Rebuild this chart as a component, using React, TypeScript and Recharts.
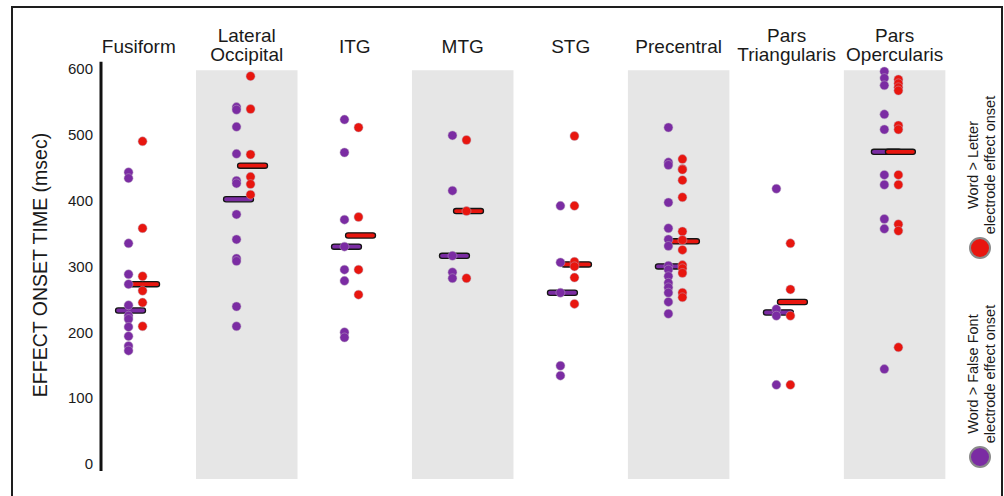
import React from 'react';
import {
  ScatterChart,
  Scatter,
  XAxis,
  YAxis,
  ReferenceArea,
  ReferenceLine,
} from 'recharts';

const FONT = '"Liberation Sans", Arial, sans-serif';

const regions = [
  'Fusiform',
  'Lateral Occipital',
  'ITG',
  'MTG',
  'STG',
  'Precentral',
  'Pars Triangularis',
  'Pars Opercularis',
];

// Word > False Font electrode effect onsets (msec), one list per region
const falseFontOnsets = [
  [443, 434, 335, 288, 273, 241, 225, 220, 208, 194, 179, 172],
  [542, 538, 512, 471, 430, 426, 379, 341, 312, 308, 239, 209],
  [523, 473, 371, 330, 295, 278, 200, 192],
  [499, 415, 316, 291, 282],
  [392, 306, 260, 149, 134],
  [511, 458, 454, 397, 358, 341, 331, 301, 295, 285, 275, 268, 260, 246, 228],
  [418, 235, 225, 120],
  [596, 586, 575, 531, 508, 439, 424, 372, 357, 144],
];

// Word > Letter electrode effect onsets (msec)
const letterOnsets = [
  [490, 358, 285, 263, 245, 209],
  [589, 539, 470, 436, 425, 409],
  [511, 375, 295, 257],
  [492, 384, 282],
  [498, 392, 307, 300, 283, 243],
  [463, 448, 447, 431, 405, 353, 340, 325, 302, 297, 290, 260, 253],
  [335, 265, 225, 120],
  [584, 578, 572, 567, 514, 508, 439, 424, 364, 354, 177],
];

const falseFontMedians = [233, 402, 330, 316, 260, 300, 230, 474];
const letterMedians = [273, 453, 347, 384, 303, 338, 246, 474];

const yTicks = [0, 100, 200, 300, 400, 500, 600];
const shadedRegions = [1, 3, 5, 7];

const PURPLE = '#7B2CA3';
const RED = '#E8160F';

const series = [
  { name: 'Word > False Font', sub: 'electrode effect onset', color: PURPLE, onsets: falseFontOnsets, medians: falseFontMedians, shift: -0.095 },
  { name: 'Word > Letter', sub: 'electrode effect onset', color: RED, onsets: letterOnsets, medians: letterMedians, shift: 0.035 },
];

const X_MIN = -0.35;
const X_MAX = 7.55;

function RegionTick(props: any) {
  const { x, y, payload } = props;
  const words = regions[payload.value].split(' ');
  const common = { x, textAnchor: 'middle' as const, fontSize: 19, fontFamily: FONT, fill: '#1a1a1a' };
  if (words.length === 1) {
    return <text {...common} y={y}>{words[0]}</text>;
  }
  return (
    <g>
      <text {...common} y={y - 11.5}>{words[0]}</text>
      <text {...common} y={y + 8}>{words[1]}</text>
    </g>
  );
}

function Dot(color: string) {
  return (p: any) => (
    <circle cx={p.cx} cy={p.cy} r={4.5} fill={color} stroke="#b9a9c0" strokeOpacity={0.6} strokeWidth={0.8} />
  );
}

function MedianBar(color: string) {
  return (p: any) => (
    <rect x={p.cx - 13} y={p.cy - 2.6} width={30} height={5.2} rx={2.6} fill={color} stroke="#151515" strokeWidth={1.3} />
  );
}

function YTitle(props: any) {
  const { viewBox } = props;
  const cx = viewBox.x - 1;
  const cy = viewBox.y + viewBox.height / 2 - 5;
  return (
    <text
      x={cx}
      y={cy}
      transform={`rotate(-90 ${cx} ${cy})`}
      textAnchor="middle"
      dominantBaseline="central"
      fontSize={19.5}
      fontFamily={FONT}
      fill="#1a1a1a"
    >
      EFFECT ONSET TIME (msec)
    </text>
  );
}

export default function App() {
  const pointData = series.map((s) =>
    s.onsets.flatMap((vals, i) => vals.map((v) => ({ x: i + s.shift, y: v })))
  );
  const medianData = series.map((s) => s.medians.map((v, i) => ({ x: i + s.shift, y: v })));

  return (
    <div style={{ position: 'absolute', left: 0, top: 0, width: 1004, height: 496, background: '#fff', overflow: 'hidden' }}>
      <div
        style={{
          position: 'absolute',
          left: 11,
          top: 6,
          width: 992,
          height: 520,
          border: '2px solid #1e1e1e',
          boxSizing: 'border-box',
        }}
      />
      <ScatterChart width={1004} height={496} margin={{ top: 0, right: 50, bottom: 17, left: 41 }}>
        <XAxis
          type="number"
          dataKey="x"
          orientation="top"
          domain={[X_MIN, X_MAX]}
          ticks={[0, 1, 2, 3, 4, 5, 6, 7]}
          interval={0}
          height={61}
          axisLine={false}
          tickLine={false}
          allowDataOverflow
          tick={<RegionTick />}
        />
        <YAxis
          type="number"
          dataKey="y"
          domain={[-23, 612]}
          ticks={yTicks}
          width={60}
          axisLine={false}
          tickLine={false}
          allowDataOverflow
          tick={{ fontSize: 15, fontFamily: FONT, fill: '#1a1a1a' }}
          label={<YTitle />}
        />
        {shadedRegions.map((i) => (
          <ReferenceArea key={i} x1={i - 0.47} x2={i + 0.47} y1={-23} y2={598} fill="#e6e6e6" fillOpacity={1} stroke="none" />
        ))}
        <ReferenceLine
          segment={[{ x: X_MIN, y: -11 }, { x: X_MIN, y: 611 }]}
          stroke="#111"
          strokeWidth={3}
          ifOverflow="visible"
        />
        {series.map((s, k) => (
          <Scatter key={'m' + k} name={s.name + ' median'} data={medianData[k]} shape={MedianBar(s.color)} isAnimationActive={false} />
        ))}
        {series.map((s, k) => (
          <Scatter key={'p' + k} name={s.name} data={pointData[k]} shape={Dot(s.color)} isAnimationActive={false} />
        ))}
      </ScatterChart>
      <svg width={1004} height={496} style={{ position: 'absolute', left: 0, top: 0, pointerEvents: 'none' }}>
        {[...series].reverse().map((s, k) => {
          const cy = k === 0 ? 165 : 374;
          const circleY = k === 0 ? 248 : 457;
          return (
            <g key={s.name} fontFamily={FONT} fontSize={14.5} fill="#1a1a1a">
              <text x={973} y={cy} transform={`rotate(-90 973 ${cy})`} textAnchor="middle" dominantBaseline="central">
                {s.name}
              </text>
              <text x={990} y={cy} transform={`rotate(-90 990 ${cy})`} textAnchor="middle" dominantBaseline="central">
                {s.sub}
              </text>
              <circle cx={980} cy={circleY} r={10} fill={s.color} stroke="#8a8a8a" strokeWidth={2} />
            </g>
          );
        })}
      </svg>
    </div>
  );
}
